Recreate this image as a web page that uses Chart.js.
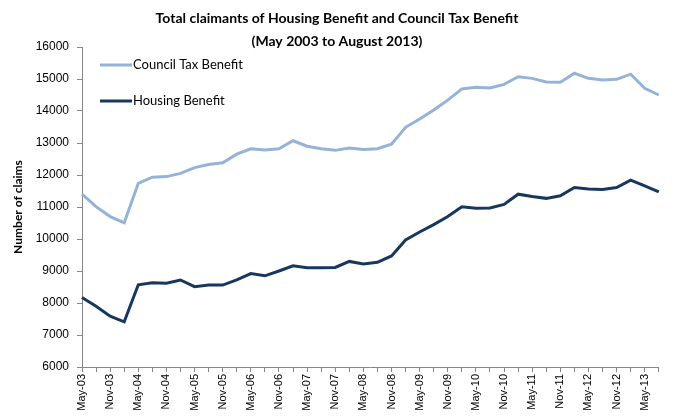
<!DOCTYPE html>
<html>
<head>
<meta charset="utf-8">
<script src="https://cdn.jsdelivr.net/npm/chart.js@4/dist/chart.umd.min.js"></script>
<style>
  html, body { margin: 0; padding: 0; background: #fff; }
  #wrap { width: 674px; height: 419px; }
</style>
</head>
<body>
<div id="wrap"><canvas id="c" width="674" height="419"></canvas></div>
<script>
const titleLines = ["Total claimants of Housing Benefit and Council Tax Benefit", "(May 2003 to August 2013)"];
const yAxisTitle = "Number of claims";
const periods = [
  "May-03","Aug-03","Nov-03","Feb-04","May-04","Aug-04","Nov-04","Feb-05",
  "May-05","Aug-05","Nov-05","Feb-06","May-06","Aug-06","Nov-06","Feb-07",
  "May-07","Aug-07","Nov-07","Feb-08","May-08","Aug-08","Nov-08","Feb-09",
  "May-09","Aug-09","Nov-09","Feb-10","May-10","Aug-10","Nov-10","Feb-11",
  "May-11","Aug-11","Nov-11","Feb-12","May-12","Aug-12","Nov-12","Feb-13",
  "May-13","Aug-13"
];
const councilTaxBenefit = [
  11400,11010,10700,10510,11740,11930,11950,12050,
  12230,12330,12380,12650,12820,12780,12820,13070,
  12900,12820,12770,12840,12800,12820,12960,13490,
  13750,14030,14340,14690,14740,14720,14830,15070,
  15020,14910,14900,15180,15020,14970,14990,15150,
  14710,14500
];
const housingBenefit = [
  8170,7900,7590,7410,8570,8630,8620,8720,
  8510,8560,8560,8720,8920,8850,9000,9160,
  9100,9100,9110,9300,9220,9270,9470,9970,
  10220,10450,10700,11010,10960,10970,11080,11400,
  11330,11270,11350,11610,11560,11550,11610,11840,
  11660,11470
];
const yTicks = [6000,7000,8000,9000,10000,11000,12000,13000,14000,15000,16000];

const ctbColor = "#95B3D7";
const hbColor = "#17375E";
const axisColor = "#868686";
const calibriLike = "Lato, 'Open Sans', sans-serif";
const arialLike = "'Liberation Sans', Arial, sans-serif";

const titlePlugin = {
  id: 'customTitle',
  afterDraw(chart) {
    const ctx = chart.ctx;
    ctx.save();
    ctx.fillStyle = '#000';
    ctx.font = "bold 14px " + calibriLike;
    ctx.textAlign = 'center';
    ctx.textBaseline = 'middle';
    ctx.fillText(titleLines[0], 337, 18);
    ctx.fillText(titleLines[1], 337, 41);
    ctx.restore();
  }
};

const legendPlugin = {
  id: 'customLegend',
  afterDraw(chart) {
    const ctx = chart.ctx;
    const rows = [65, 101];
    ctx.save();
    chart.data.datasets.forEach((ds, i) => {
      const y = rows[i];
      ctx.strokeStyle = ds.borderColor;
      ctx.lineWidth = 3;
      ctx.beginPath();
      ctx.moveTo(100, y);
      ctx.lineTo(132, y);
      ctx.stroke();
      ctx.fillStyle = '#000';
      ctx.font = "13px " + calibriLike;
      ctx.textAlign = 'left';
      ctx.textBaseline = 'middle';
      ctx.fillText(ds.label, 133, y);
    });
    ctx.restore();
  }
};

new Chart(document.getElementById('c'), {
  type: 'line',
  data: {
    labels: periods,
    datasets: [
      { label: "Council Tax Benefit", data: councilTaxBenefit, borderColor: ctbColor, backgroundColor: ctbColor, borderWidth: 3, pointRadius: 0, tension: 0, fill: false },
      { label: "Housing Benefit", data: housingBenefit, borderColor: hbColor, backgroundColor: hbColor, borderWidth: 3, pointRadius: 0, tension: 0, fill: false }
    ]
  },
  options: {
    responsive: false,
    animation: false,
    layout: { padding: { left: 7, right: 6, top: 47, bottom: 0 } },
    plugins: {
      legend: { display: false },
      title: { display: false },
      tooltip: { enabled: false }
    },
    scales: {
      x: {
        type: 'category',
        offset: false,
        grid: { display: true, drawOnChartArea: false, drawTicks: true, tickLength: 5, color: axisColor },
        border: { display: true, color: axisColor, width: 1 },
        ticks: {
          autoSkip: false, maxRotation: 90, minRotation: 90, padding: 2,
          color: '#000', font: { family: arialLike, size: 11 },
          callback: function(v, i) { return i % 2 === 0 ? periods[i] : ''; }
        },
        afterFit(scale) { scale.height = 52; }
      },
      y: {
        min: yTicks[0], max: yTicks[yTicks.length - 1],
        afterBuildTicks(scale) { scale.ticks = yTicks.map(v => ({ value: v })); },
        grid: { display: true, drawOnChartArea: false, drawTicks: true, tickLength: 5, color: axisColor },
        border: { display: true, color: axisColor, width: 1 },
        ticks: { color: '#000', padding: 8, font: { family: arialLike, size: 12 },
          callback: function(v) { return String(v); } },
        title: { display: true, text: yAxisTitle, color: '#000', padding: { top: 4, bottom: 4 }, font: { family: calibriLike, size: 12, weight: 'bold' } },
        afterFit(scale) { scale.width = 75; }
      }
    }
  },
  plugins: [titlePlugin, legendPlugin]
});
</script>
</body>
</html>
